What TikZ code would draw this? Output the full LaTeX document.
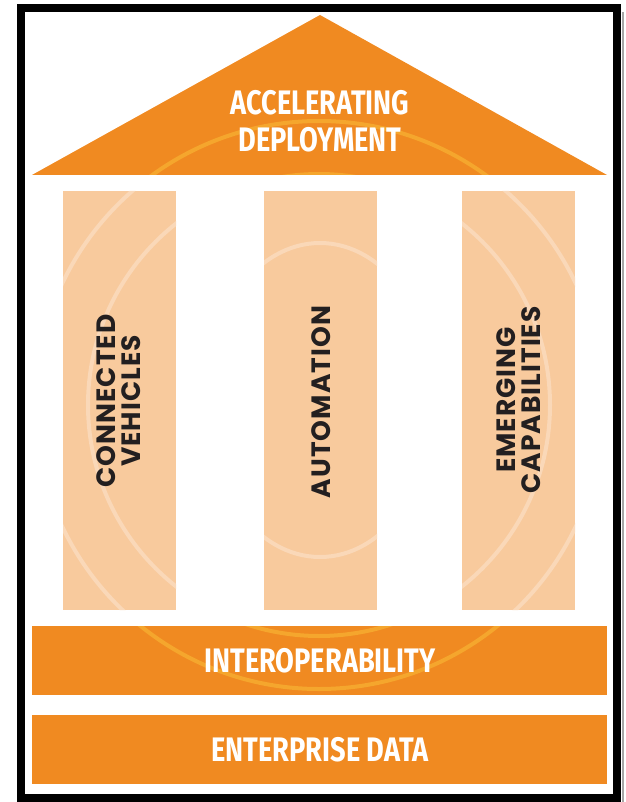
\documentclass[tikz,border=0pt]{standalone}
\usepackage{fontspec}
\newfontfamily\roofFont{Fira Sans}[FakeStretch=0.8]
\newfontfamily\pillarFont{Poppins}[LetterSpace=4]
\definecolor{houseOrange}{RGB}{240,138,33}
\definecolor{pillarPeach}{RGB}{248,202,157}
\definecolor{ringDark}{RGB}{245,166,45}
\definecolor{ringLight}{RGB}{250,216,184}
\definecolor{pillarInk}{RGB}{35,31,32}

\begin{document}
\begin{tikzpicture}[x=1pt,y=-1pt,
		whitetext/.style={text=white,inner sep=0pt,align=center,font=\roofFont\bfseries\fontsize{34}{37}\selectfont},
		pillartext/.style={text=pillarInk,inner sep=0pt,align=center,rotate=90,font=\pillarFont\bfseries\fontsize{26.5}{25}\selectfont},
		ring/.style={line width=4pt}]
		\useasboundingbox (0,0) rectangle (625,802);
	
		% roof and base
		\fill[houseOrange] (32,175) -- (320,15) -- (607,175) -- cycle;
		\fill[houseOrange] (32,626) rectangle (607,695);
		\fill[houseOrange] (32,715) rectangle (607,784);
		\begin{scope}
			\clip (32,175) -- (320,15) -- (607,175) -- cycle (32,626) rectangle (607,695) (32,715) rectangle (607,784);
			\foreach \r in {231,284}
				\draw[ringDark,ring] (319,405) circle[radius=\r pt];
		\end{scope}
	
		% pillars
		\foreach \x in {63,264,462}
			\fill[pillarPeach] (\x,191) rectangle ++(113,419);
		\begin{scope}
			\clip (63,191) rectangle (176,610) (264,191) rectangle (377,610) (462,191) rectangle (575,610);
			\draw[ringLight,ring] (320,400) ellipse[x radius=115pt,y radius=157pt];
			\foreach \r in {231,284}
				\draw[ringLight,ring] (319,405) circle[radius=\r pt];
		\end{scope}
	
		\node[whitetext] (roof) at (320,121.5) {ACCELERATING\\DEPLOYMENT};
		\node[whitetext] (interop) at (320,660.5) {INTEROPERABILITY};
		\node[whitetext] (data) at (320,750) {ENTERPRISE DATA};
	
		\node[pillartext] (cv) at (119,401) {CONNECTED\\VEHICLES};
		\node[pillartext] (auto) at (321,402) {AUTOMATION};
		\node[pillartext] (ec) at (519,400) {EMERGING\\CAPABILITIES};
	
		% frame
		\draw[black!35,line width=2pt] (622.5,12) -- (622.5,802);
		\draw[line width=8pt] (21,8) rectangle (617,798);
	\end{tikzpicture}
\end{document}
